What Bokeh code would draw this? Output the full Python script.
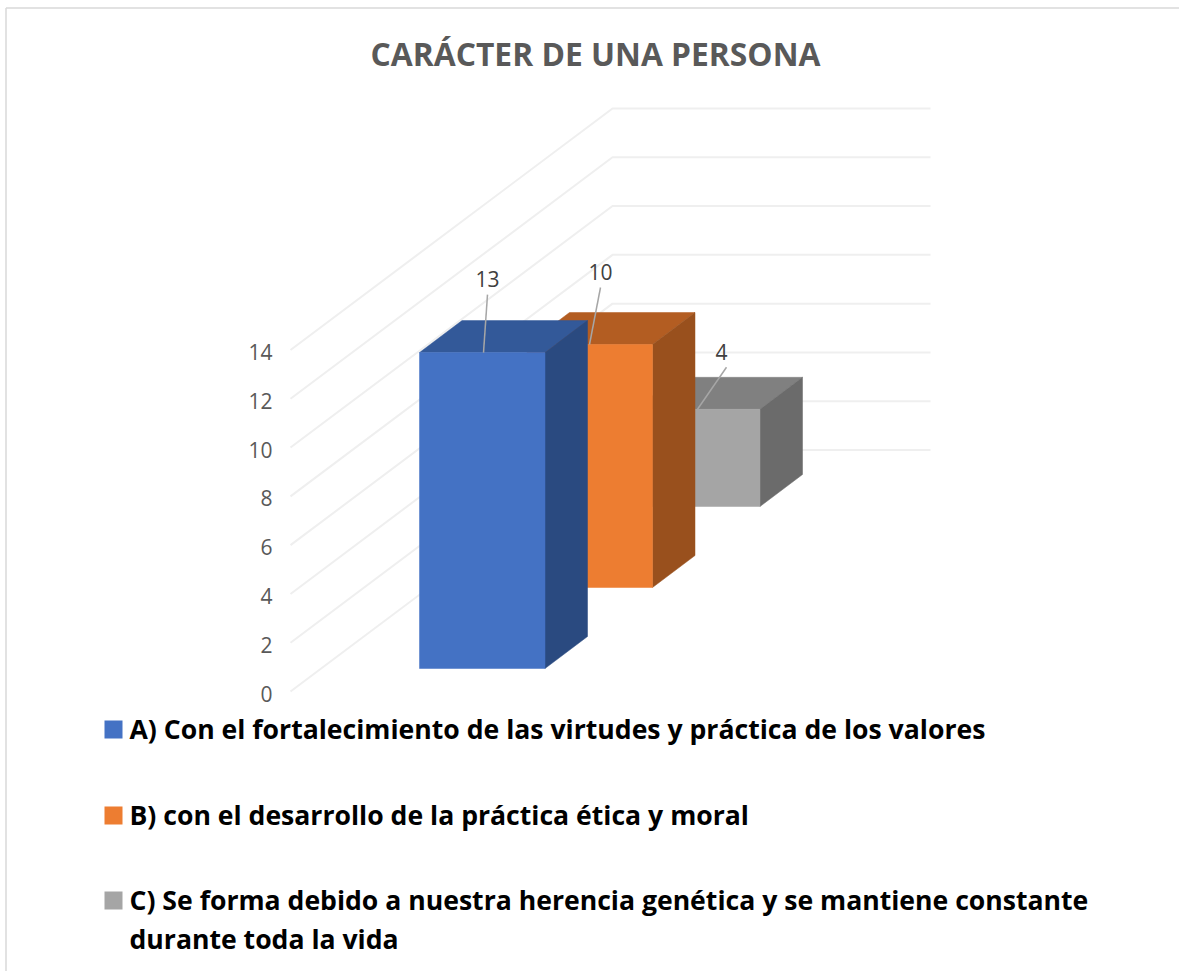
from bokeh.plotting import figure
from bokeh.models import Range1d
from bokeh.core.properties import value
from bokeh.embed import file_html
from bokeh.resources import INLINE

# ---- data ----
TITLE = "CARÁCTER DE UNA PERSONA"
series_values = [13, 10, 4]
series_labels = ["13", "10", "4"]
y_ticks = [0, 2, 4, 6, 8, 10, 12, 14]
legend_lines = [
    ["A) Con el fortalecimiento de las virtudes y práctica de los valores"],
    ["B) con el desarrollo de la práctica ética y moral"],
    ["C) Se forma debido a nuestra herencia genética y se mantiene constante",
     "durante toda la vida"],
]
front_colors = ["#4472C4", "#ED7D31", "#A5A5A5"]
side_colors = ["#2A4A80", "#99501D", "#6B6B6B"]
top_colors = ["#335999", "#B35D22", "#808080"]

# ---- oblique projection (screen px) ----
FONT = "Open Sans"
PX_PER_UNIT = 24.3
GRID_PX_PER_UNIT = 341.5 / 14
FLOOR_X, FLOOR_Y = 290.0, 691.0      # front-left corner of the floor, value 0
DEPTH_X, DEPTH_Y = 322.0, -241.5     # whole chart depth
BAR_X0, BAR_Y0 = 419.0, 668.0        # first bar, front-bottom-left
BAR_W = 125.5
BAR_DX, BAR_DY = 107.5, -81.0        # shift from one series to the next
BAR_DEPTH_X, BAR_DEPTH_Y = 42.5, -32.0
WALL_RIGHT = 930.0


def vy(v):
    return v * GRID_PX_PER_UNIT


W, H = 1179, 971
p = figure(width=W, height=H, output_backend="svg", toolbar_location=None,
           x_range=Range1d(0, W), y_range=Range1d(H, 0),
           min_border=0, outline_line_color=None)
p.axis.visible = False
p.grid.visible = False
p.background_fill_color = "white"

# page frame
p.line([5.5, 1179], [7.5, 7.5], line_color="#D9D9D9", line_width=1.5)
p.line([5.5, 5.5], [7.5, 971], line_color="#D9D9D9", line_width=1.5)

# grid
GRID = "#EFEFEF"
for t in y_ticks:
    yf = FLOOR_Y - vy(t)
    xb, yb = FLOOR_X + DEPTH_X, yf + DEPTH_Y
    p.line([FLOOR_X, xb, WALL_RIGHT], [yf, yb, yb], line_color=GRID, line_width=2)

# axis labels
p.text([272] * len(y_ticks), [FLOOR_Y + 2 - vy(t) for t in y_ticks],
       text=[str(t) for t in y_ticks], text_font=value(FONT), text_font_size="21px",
       text_color="#595959", text_align="right", text_baseline="middle")

# bars, back to front
for i in reversed(range(len(series_values))):
    v = series_values[i]
    x0 = BAR_X0 + i * BAR_DX
    y0 = BAR_Y0 + i * BAR_DY
    x1 = x0 + BAR_W
    h = v * PX_PER_UNIT
    y1 = y0 - h
    dx, dy = BAR_DEPTH_X, BAR_DEPTH_Y
    p.patch([x0, x0 + dx, x1 + dx, x1], [y1, y1 + dy, y1 + dy, y1],
            fill_color=top_colors[i], line_color=top_colors[i], line_width=0.5)
    p.patch([x1, x1 + dx, x1 + dx, x1], [y1, y1 + dy, y0 + dy, y0],
            fill_color=side_colors[i], line_color=side_colors[i], line_width=0.5)
    p.patch([x0, x1, x1, x0], [y1, y1, y0, y0],
            fill_color=front_colors[i], line_color=front_colors[i], line_width=0.5)

# data labels with leader lines (offsets from the bar's top front edge)
label_offsets = [(5, -74), (11, -73), (24, -57)]
leader_start = [(5, -58), (11, -57), (29, -42)]
leader_end = [(1, 0), (0, 0), (0, 0)]
leader_anchor = [482.0, 589.0, 697.0]
for i, v in enumerate(series_values):
    y1 = BAR_Y0 + i * BAR_DY - v * PX_PER_UNIT
    ax = leader_anchor[i]
    sx, sy = leader_start[i]
    ex, ey = leader_end[i]
    p.line([ax + sx, ax + ex], [y1 + sy, y1 + ey], line_color="#A6A6A6", line_width=1.5)
    lx, ly = label_offsets[i]
    p.text([ax + lx], [y1 + ly], text=[series_labels[i]], text_font=value(FONT),
           text_font_size="21px", text_color="#404040", text_align="center",
           text_baseline="middle")

# title
p.text([595], [53], text=[TITLE], text_font=value(FONT), text_font_size="31.8px",
       text_font_style="bold", text_color="#595959", text_align="center",
       text_baseline="middle")

# legend
legend_y = [729, 815, 900]
TEXT_DY = -1
LINE_H = 39
for i, lines in enumerate(legend_lines):
    yc = legend_y[i]
    p.rect([113], [yc], width=18, height=18, fill_color=front_colors[i], line_color=None)
    for j, line in enumerate(lines):
        p.text([129], [yc + TEXT_DY + j * LINE_H], text=[line], text_font=value(FONT),
               text_font_size="26.6px", text_font_style="bold", text_color="#000000",
               text_align="left", text_baseline="middle")

open("out.html", "w").write(file_html(p, INLINE))
